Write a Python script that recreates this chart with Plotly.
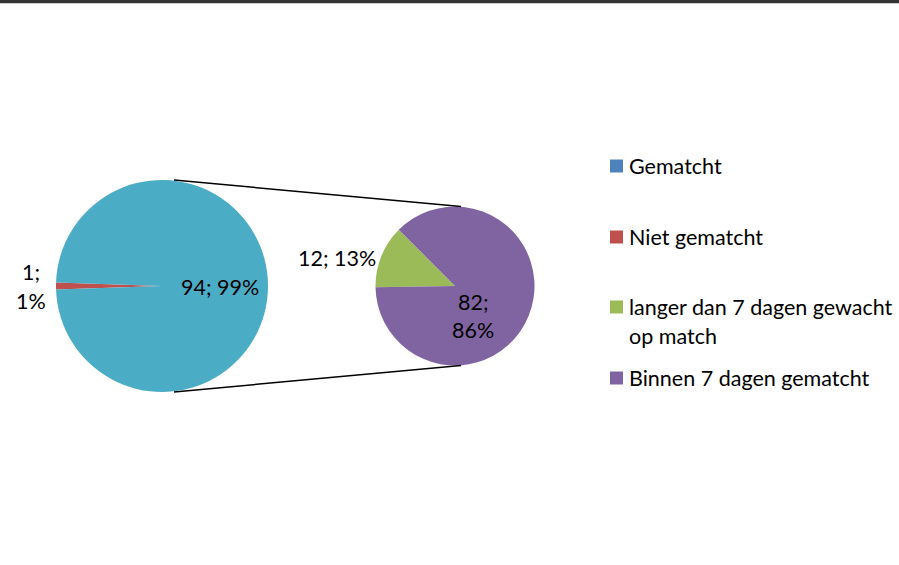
import plotly.graph_objects as go

W, H = 899, 565

# Data
main_labels = ["Niet gematcht", "Gematcht"]
main_values = [1, 94]
sub_labels = ["langer dan 7 dagen gewacht op match", "Binnen 7 dagen gematcht"]
sub_values = [12, 82]

legend_labels = ["Gematcht", "Niet gematcht", "langer dan 7 dagen gewacht<br>op match", "Binnen 7 dagen gematcht"]
legend_colors = ["#4F81BD", "#C0504D", "#9BBB59", "#8064A2"]

main_colors = ["#C0504D", "#4BACC6"]
sub_colors = ["#9BBB59", "#8064A2"]

FONT = "Lato, 'Open Sans', sans-serif"
FS = 21.5

def px_dom_x(c, r):
    return [(c - r) / W, (c + r) / W]

def px_dom_y(c, r):
    cy = H - c
    return [(cy - r) / H, (cy + r) / H]

# pie geometry (pixels)
L_CX, L_CY, L_R = 162, 286, 106
R_CX, R_CY, R_R = 455, 286, 79.5

total = sum(main_values)
red_angle = main_values[0] / total * 360
sub_total = sum(sub_values)
green_angle = sub_values[0] / sub_total * 360

fig = go.Figure()
fig.add_trace(go.Pie(
    labels=main_labels, values=main_values, sort=False, direction="counterclockwise",
    rotation=-(90 + red_angle / 2),
    marker=dict(colors=main_colors, line=dict(width=0)),
    textinfo="none", hoverinfo="label+value+percent", showlegend=False,
    domain=dict(x=px_dom_x(L_CX, L_R), y=px_dom_y(L_CY, L_R)),
))
fig.add_trace(go.Pie(
    labels=sub_labels, values=sub_values, sort=False, direction="counterclockwise",
    rotation=-45 - green_angle,
    marker=dict(colors=sub_colors, line=dict(width=0)),
    textinfo="none", hoverinfo="label+value+percent", showlegend=False,
    domain=dict(x=px_dom_x(R_CX, R_R), y=px_dom_y(R_CY, R_R)),
))

def pct(v, t):
    return f"{round(v / t * 100)}%"

def P(x, y):
    return x / W, 1 - y / H

annos = []
def add_text(text, x, y, xanchor="center"):
    px, py = P(x, y)
    annos.append(dict(text=text, x=px, y=py, xref="paper", yref="paper", showarrow=False,
                      xanchor=xanchor, yanchor="middle", align=xanchor if xanchor != "center" else "center",
                      font=dict(family=FONT, size=FS, color="#000")))

add_text(f"{main_values[1]}; {pct(main_values[1], total)}", 220, 287)
add_text(f"{main_values[0]};", 31, 272)
add_text(f"{pct(main_values[0], total)}", 31, 301)
add_text(f"{sub_values[0]}; {pct(sub_values[0], total)}", 337, 258)
add_text(f"{sub_values[1]};", 473, 302)
add_text(f"{pct(sub_values[1], total)}", 473, 330)

# legend
leg_y = [166, 237, 307, 378]
shapes = []
for lab, col, y in zip(legend_labels, legend_colors, leg_y):
    x0, y0 = P(610, y - 6.5)
    x1, y1 = P(623, y + 6.5)
    shapes.append(dict(type="rect", xref="paper", yref="paper", x0=x0, x1=x1, y0=y1, y1=y0,
                       fillcolor=col, line=dict(width=0)))
    for k, line in enumerate(lab.split("<br>")):
        add_text(line, 627, y + 29 * k, xanchor="left")

# connector lines
for (xa, ya), (xb, yb) in [((174, 180), (461, 206.5)), ((174, 392), (461, 365.5))]:
    a = P(xa, ya); b = P(xb, yb)
    shapes.append(dict(type="line", xref="paper", yref="paper", x0=a[0], y0=a[1], x1=b[0], y1=b[1],
                       line=dict(color="#000", width=1.5)))

# top border
shapes.append(dict(type="line", xref="paper", yref="paper", x0=0, x1=1, y0=1 - 1.5 / H, y1=1 - 1.5 / H,
                   line=dict(color="#333333", width=3.5)))

fig.update_layout(
    width=W, height=H, margin=dict(l=0, r=0, t=0, b=0),
    paper_bgcolor="white", plot_bgcolor="white",
    annotations=annos, shapes=shapes, showlegend=False,
)
fig.write_html("out.html", config={"displayModeBar": False},
               post_script="document.body.style.margin='0';document.body.style.overflow='hidden';")
